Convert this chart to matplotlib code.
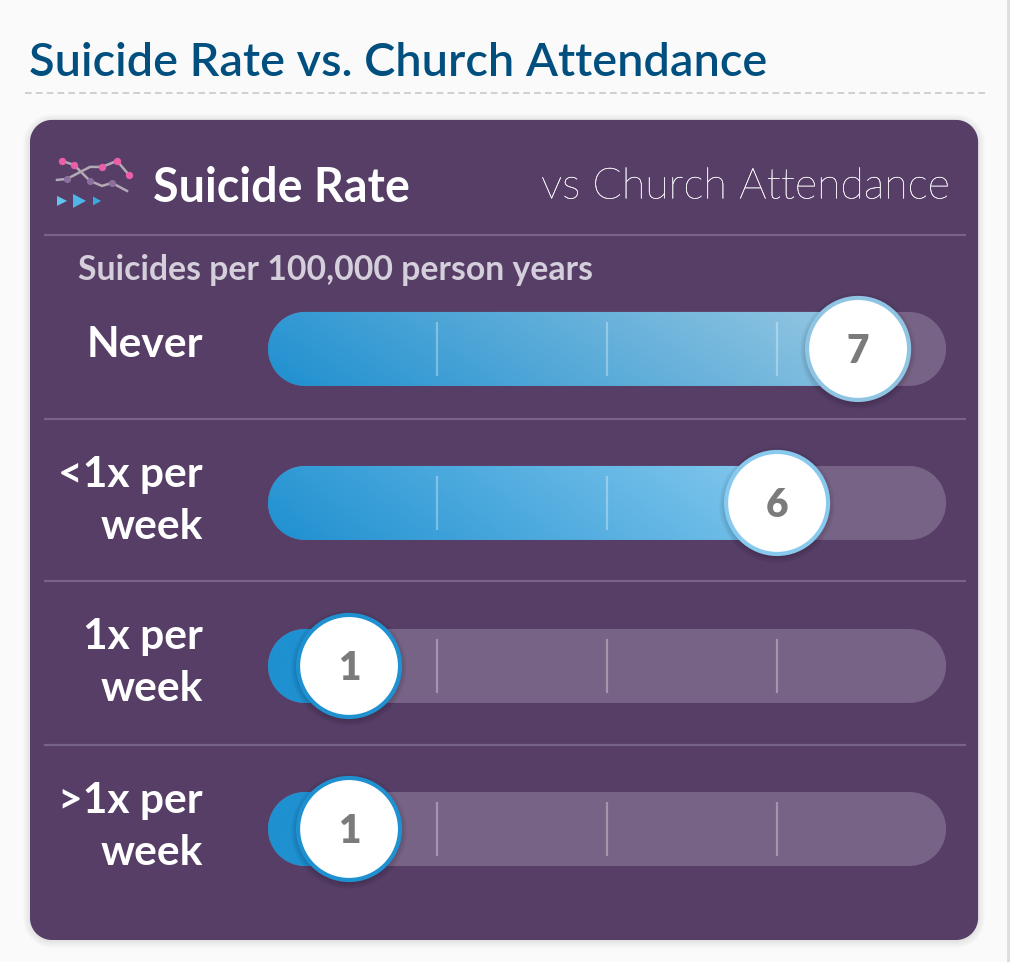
import numpy as np
import matplotlib
matplotlib.use('Agg')
import matplotlib.pyplot as plt
import matplotlib.patheffects as pe
from matplotlib.patches import Circle, Polygon
from matplotlib.colors import to_rgb

plt.rcParams['font.family'] = ['Lato', 'DejaVu Sans']

# data
categories = ['Never', '<1x per\nweek', '1x per\nweek', '>1x per\nweek']
values = [7, 6, 1, 1]
tick_values = [2, 4, 6]

# layout in pixels
W, H = 1010, 962
track_y = [349, 503, 666, 829]
label_y = [345, 501, 663, 827]
sep_y = [235, 419, 581, 745]
track_left, track_right = 268, 946
track_h = 74
x0, px_per_unit = 267, 85
knob_nudge = [-4, 0, -3, -3]
knob_r = 51

# colours
page = '#fafafa'
purple = '#563e67'
track_col = '#776385'
sep_col = '#77628a'
blue = '#1f90d0'
end_cols = ['#9ccae3', '#8accf0', blue, blue]
edge_cols = ['#8fc5e2', '#88c9ee', blue, blue]


def xscale(v):
    return x0 + px_per_unit * v


def rbox(x, y, w, h, r, **kw):
    # true circular corners, the round boxstyle looks too square
    a = np.linspace(0, np.pi / 2, 24)
    pts = []
    for cx, cy, start in [(x + w - r, y + r, -np.pi / 2), (x + w - r, y + h - r, 0),
                          (x + r, y + h - r, np.pi / 2), (x + r, y + r, np.pi)]:
        pts.append(np.column_stack([cx + r * np.cos(start + a), cy + r * np.sin(start + a)]))
    return Polygon(np.vstack(pts), closed=True, lw=0, **kw)


fig = plt.figure(figsize=((W + 0.1) / 100, (H + 0.1) / 100), dpi=100, facecolor=page)
ax = fig.add_axes([0, 0, 1, 1])
ax.axis('off')

# right edge of the page
ax.fill_between([1007, 1010], 0, H, color='#dedede', lw=0, zorder=0)

# heading
ax.text(29, 63, 'Suicide Rate vs. Church Attendance', fontsize=33.75, weight='semibold',
        color='#004f7f', ha='left', va='center')
ax.plot([25, 985], [93, 93], color='#c8c8c8', lw=1.2, dashes=(4, 2.5))

# card with soft shadow
for i in range(8):
    ax.add_patch(rbox(30 - i, 120 - i + 1, 948 + 2 * i, 820 + 2 * i, 22 + i, fc='black', alpha=0.012, zorder=1))
ax.add_patch(rbox(30, 120, 948, 820, 22, fc=purple, zorder=2))

# card header
ax.text(153, 188, 'Suicide Rate', fontsize=33.6, weight='bold', color='white', ha='left', va='center', zorder=5)
light = ax.text(950, 187, 'vs Church Attendance', fontsize=31, weight='light', color='white', ha='right', va='center', zorder=5)
light.set_path_effects([pe.withStroke(linewidth=0.2, foreground='white')])
ax.text(78, 270, 'Suicides per 100,000 person years', fontsize=24.3, weight='bold', color='#d5cfdb',
        ha='left', va='center', zorder=5)

# header icon
icon_a = [(62, 161), (74, 165), (90, 181), (102, 186), (112, 183), (127, 191)]
icon_b = [(57, 180), (67, 179), (90, 167), (102, 167), (117, 161), (129, 175)]
pink_dots = [(62, 161), (74, 165), (102, 167), (117, 161), (129, 175)]
mauve_dots = [(67, 179), (90, 181), (112, 183)]
for line in (icon_a, icon_b):
    ax.plot(*zip(*line), color='#b3a9b5', lw=1.8, zorder=5)
ax.scatter(*zip(*pink_dots), s=28, color='#ec5fa8', lw=0, zorder=6)
ax.scatter(*zip(*mauve_dots), s=26, color='#8c6f9e', lw=0, zorder=6)
for tx, ty, tw, th, c in [(57, 201, 10, 10, '#63c4ee'), (73, 201, 13, 14, '#4fb5e8'), (93, 201, 8, 9, '#3aa9e0')]:
    ax.add_patch(Polygon([(tx, ty - th / 2), (tx + tw, ty), (tx, ty + th / 2)], fc=c, lw=0, zorder=5))

# separators
for y in sep_y:
    ax.plot([44, 966], [y, y], color=sep_col, lw=1.6, zorder=3, solid_capstyle='butt')

# rows
for i, (cat, val, y) in enumerate(zip(categories, values, track_y)):
    top = y - track_h / 2
    kx = xscale(val) + knob_nudge[i]

    ax.add_patch(rbox(track_left, top, track_right - track_left, track_h, track_h / 2, fc=track_col, zorder=3))

    # gradient fill, dark at lower left to light at upper right
    fill_w = kx - track_left
    clip = rbox(track_left, top, fill_w + track_h / 2, track_h, track_h / 2, fc='none', transform=ax.transData)
    ax.add_patch(clip)
    gx, gy = np.meshgrid(np.linspace(0, 1, 200), np.linspace(0, 1, 30))
    t = np.clip(0.85 * gx + 0.15 * (1 - gy), 0, 1)[..., None]
    grad = np.array(to_rgb(blue)) * (1 - t) + np.array(to_rgb(end_cols[i])) * t
    im = ax.imshow(grad, extent=[track_left, kx + track_h / 2, y + track_h / 2, y - track_h / 2],
                   aspect='auto', zorder=3.5, interpolation='bilinear')
    im.set_clip_path(clip)

    # ticks
    for tv in tick_values:
        ax.plot([xscale(tv), xscale(tv)], [y - 27, y + 27], color='white', alpha=0.32, lw=1.6,
                zorder=4, solid_capstyle='butt')

    # knob shadow and knob
    for k in range(7):
        ax.add_patch(Circle((kx, y + 2), knob_r + 7 - k, fc='black', alpha=0.025, lw=0, zorder=4.5))
    ax.add_patch(Circle((kx, y), knob_r, fc='white', ec=edge_cols[i], lw=3, zorder=5))
    ax.text(kx, y + 2, str(val), fontsize=28, weight='heavy', color='#7b7b7b', ha='center', va='center', zorder=6)

    # category label
    ax.text(203, label_y[i], cat, fontsize=30.6, weight='bold', color='white',
            ha='right', va='center', linespacing=1.47, zorder=5)

ax.set_xlim(0, W)
ax.set_ylim(H, 0)

fig.savefig('out.png', dpi=100, facecolor=page)
